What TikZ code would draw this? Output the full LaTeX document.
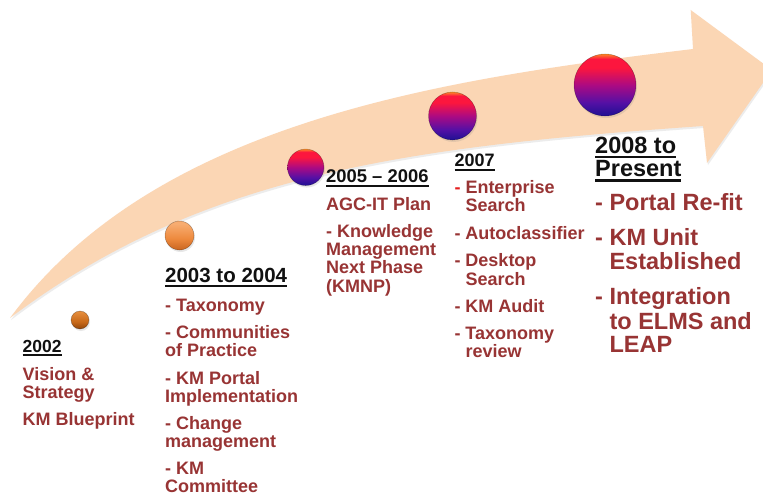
\documentclass[tikz,border=0pt]{standalone}
\usepackage{fontspec}
\setmainfont{Liberation Sans}
\usetikzlibrary{shadows}
\definecolor{peach}{RGB}{251,214,180}
\definecolor{itemred}{RGB}{152,52,52}
\definecolor{dashred}{RGB}{228,30,30}
\definecolor{headblack}{RGB}{17,17,17}
\definecolor{pB}{RGB}{40,16,150}
\definecolor{pBB}{RGB}{85,16,165}
\definecolor{pM}{RGB}{172,10,130}
\definecolor{pR}{RGB}{252,22,62}
\definecolor{pO}{RGB}{255,135,40}
\definecolor{oB}{RGB}{205,105,35}
\definecolor{oM}{RGB}{238,138,62}
\definecolor{oT}{RGB}{247,172,112}
\definecolor{sB}{RGB}{150,72,12}
\definecolor{sM}{RGB}{200,105,25}
\definecolor{sT}{RGB}{228,140,60}
\pgfdeclareverticalshading{sphP}{100bp}{color(0bp)=(pB); color(27bp)=(pB); color(36bp)=(pBB); color(50bp)=(pM); color(64bp)=(pR); color(71bp)=(pR); color(75bp)=(pO); color(100bp)=(pO)}
\pgfdeclareverticalshading{sphO}{100bp}{color(0bp)=(oB); color(27bp)=(oB); color(45bp)=(oM); color(70bp)=(oT); color(100bp)=(oT)}
\pgfdeclareverticalshading{sphS}{100bp}{color(0bp)=(sB); color(27bp)=(sB); color(45bp)=(sM); color(72bp)=(sT); color(100bp)=(sT)}
\newcommand{\ulh}[1]{\setbox0=\hbox{#1}\rlap{\rule[-0.22em]{\wd0}{0.11em}}\box0}
\newcommand{\hdash}{\hphantom{-\ }}
\begin{document}
\begin{tikzpicture}[x=1pt,y=-1pt,
  sph/.style={circle, inner sep=0pt, draw=black, draw opacity=0.3, line width=0.5pt,
    drop shadow={shadow xshift=1pt, shadow yshift=-2pt, opacity=0.18}},
  head/.style={anchor=base west, inner sep=0pt, text=headblack,
    font=\bfseries\fontsize{#1}{#1}\selectfont},
  items/.style={anchor=base west, inner sep=0pt, text=itemred,
    font=\bfseries\fontsize{#1}{#1}\selectfont}
]
\useasboundingbox (0,0) rectangle (763,495);
\fill[white] (0,0) rectangle (763,495);
% curved arrow band
\fill[peach, drop shadow={shadow xshift=1pt, shadow yshift=-2pt, opacity=0.15}]
  (10,318) .. controls (155,121) and (443,79) .. (693,49)
  -- (690.7,10) -- (772,70) -- (707,163) -- (703,126)
  .. controls (403,147) and (200,175) .. (10,318) -- cycle;
% spheres
\node[sph, minimum size=62pt, shading=sphP] (b2008) at (605,85) {};
\node[sph, minimum size=48pt, shading=sphP] (b2007) at (452.5,116) {};
\node[sph, minimum size=36.5pt, shading=sphP] (b2005) at (305.7,167.3) {};
\node[sph, minimum size=29pt, shading=sphO] (b2003) at (179.5,235.5) {};
\node[sph, minimum size=18pt, shading=sphS] (b2002) at (80,320) {};
% 2002
\node[head=17.5] (h2002) at (22.5,352.5) {\ulh{2002}};
\node[items=18] (t2002) at (22.5,380) {\setlength{\baselineskip}{18.3pt}%
  \begin{tabular}[t]{@{}l@{}}Vision \&\\Strategy\\[9pt]KM Blueprint\end{tabular}};
% 2003
\node[head=20.5] (h2003) at (165,282.7) {\ulh{2003 to 2004}};
\node[items=18] (t2003) at (165,311.5) {\setlength{\baselineskip}{18.3pt}%
  \begin{tabular}[t]{@{}l@{}}- Taxonomy\\[8.6pt]- Communities\\of Practice\\[8.6pt]- KM Portal\\Implementation\\[8.6pt]- Change\\management\\[8.6pt]- KM\\Committee\end{tabular}};
% 2005
\node[head=18.4] (h2005) at (326,182.7) {\ulh{2005 – 2006}};
\node[items=18] (t2005) at (326,210) {\setlength{\baselineskip}{18.3pt}%
  \begin{tabular}[t]{@{}l@{}}AGC-IT Plan\\[9pt]- Knowledge\\Management\\Next Phase\\(KMNP)\end{tabular}};
% 2007
\node[head=18] (h2007) at (454.3,166.7) {\ulh{2007}};
\node[items=18] (t2007) at (454.3,193.3) {\setlength{\baselineskip}{18.3pt}%
  \begin{tabular}[t]{@{}l@{}}\textcolor{dashred}{-} Enterprise\\\hdash Search\\[9pt]- Autoclassifier\\[9pt]- Desktop\\\hdash Search\\[9pt]- KM Audit\\[9pt]- Taxonomy\\\hdash review\end{tabular}};
% 2008
\node[head=23.5] (h2008) at (595,153.3) {\setlength{\baselineskip}{23.4pt}%
  \begin{tabular}[t]{@{}l@{}}\ulh{2008 to}\\\ulh{Present}\end{tabular}};
\node[items=23.5] (t2008) at (595,210.7) {\setlength{\baselineskip}{24pt}%
  \begin{tabular}[t]{@{}l@{}}- Portal Re-fit\\[11pt]- KM Unit\\\hdash Established\\[11pt]- Integration\\\hdash to ELMS and\\\hdash LEAP\end{tabular}};
\end{tikzpicture}
\end{document}
